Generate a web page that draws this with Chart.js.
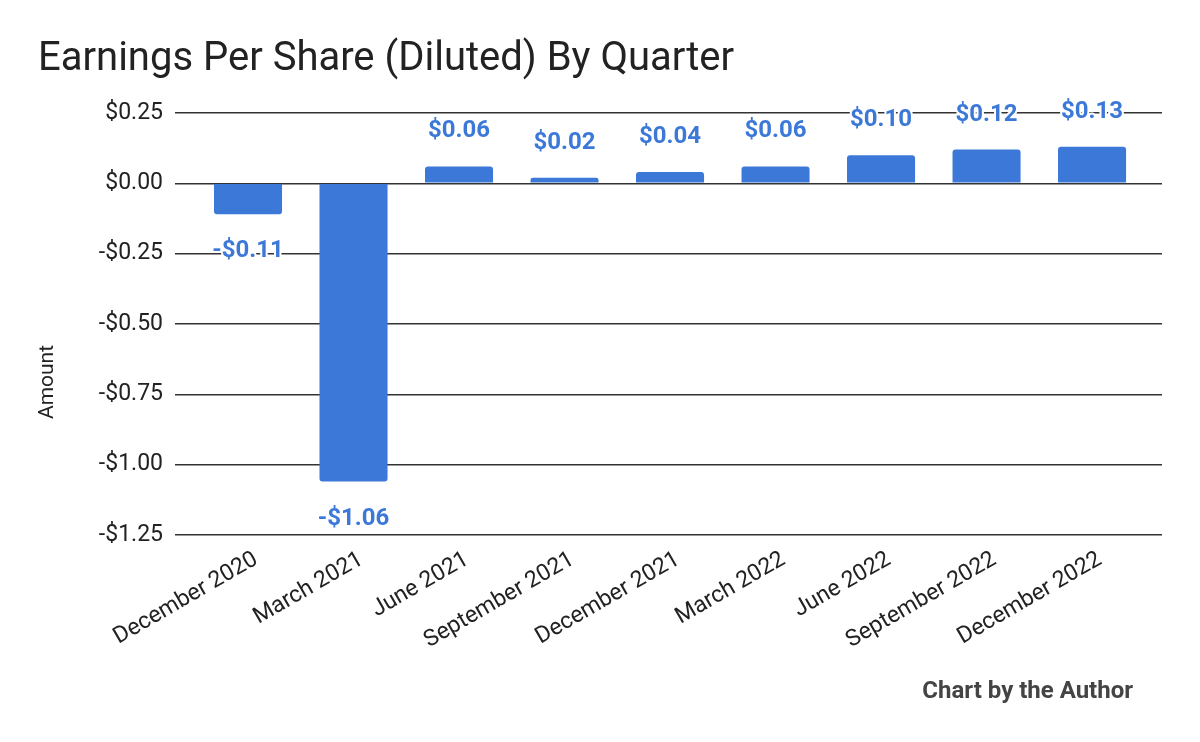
<!DOCTYPE html>
<html>
<head>
<meta charset="utf-8">
<script src="https://cdn.jsdelivr.net/npm/chart.js@4"></script>
<style>
html,body{margin:0;padding:0;background:#fff;}
#wrap{width:1200px;height:742px;position:relative;}
</style>
</head>
<body>
<div id="wrap"><canvas id="c" width="1200" height="742"></canvas></div>
<script>
const categories = ["December 2020","March 2021","June 2021","September 2021","December 2021","March 2022","June 2022","September 2022","December 2022"];
const eps = [-0.11,-1.06,0.06,0.02,0.04,0.06,0.10,0.12,0.13];
const yTicks = [0.25,0,-0.25,-0.5,-0.75,-1.0,-1.25];
const titleText = "Earnings Per Share (Diluted) By Quarter";
const yTitle = "Amount";
const footer = "Chart by the Author";

function money(v){ const s = "$" + Math.abs(v).toFixed(2); return v < 0 ? "-" + s : s; }

const BLUE = "#3c78d8";

const decor = {
  id:'decor',
  afterDraw(chart){
    const ctx = chart.ctx;
    ctx.save();
    ctx.fillStyle = "#222";
    ctx.font = "40px Roboto";
    ctx.textAlign = "left"; ctx.textBaseline = "alphabetic";
    ctx.fillText(titleText, 38, 70);
    ctx.font = "bold 24px Roboto";
    ctx.fillStyle = "#444";
    ctx.textAlign = "right"; ctx.textBaseline = "middle";
    ctx.fillText(footer, 1133, 692);
    ctx.translate(48, 382);
    ctx.rotate(-Math.PI/2);
    ctx.textAlign = "center";
    ctx.font = "21px Roboto";
    ctx.fillStyle = "#222";
    ctx.fillText(yTitle, 0, 0);
    ctx.restore();
  },
  afterDatasetsDraw(chart){
    const ctx = chart.ctx;
    const meta = chart.getDatasetMeta(0);
    ctx.save();
    ctx.font = "bold 24px Roboto";
    ctx.textAlign = "center"; ctx.textBaseline = "middle";
    ctx.lineJoin = "round";
    meta.data.forEach((bar,i)=>{
      const v = eps[i];
      const y = v >= 0 ? bar.y - 35 : bar.y + 37;
      const t = money(v);
      ctx.strokeStyle = "#fff"; ctx.lineWidth = 4;
      ctx.strokeText(t, bar.x, y);
      ctx.fillStyle = BLUE;
      ctx.fillText(t, bar.x, y);
    });
    ctx.restore();
  }
};

new Chart(document.getElementById('c'), {
  type:'bar',
  data:{ datasets:[{ data:eps.map((v,i)=>({x:i, y:v})), backgroundColor:BLUE, barPercentage:0.645, categoryPercentage:1, borderRadius:3 }]},
  options:{
    responsive:false, animation:false,
    layout:{ padding:{ top:113, right:38, left:0, bottom:0 } },
    plugins:{ legend:{display:false}, tooltip:{enabled:false}, title:{display:false} },
    scales:{
      x:{
        type:'linear', min:-0.692, max:8.663, offset:false,
        afterBuildTicks(s){ s.ticks = categories.map((c,i)=>({value:i})); },
        grid:{ display:false },
        border:{ display:false },
        ticks:{ font:{family:"Roboto", size:23}, color:"#222", maxRotation:30, minRotation:30, padding:3, autoSkip:false,
                labelOffset:8, callback:(v)=>categories[v] },
        afterFit(s){ s.height = 207; }
      },
      y:{
        min:-1.25, max:0.25,
        afterBuildTicks(s){ s.ticks = yTicks.map(v=>({value:v})); },
        grid:{ color:"#333", lineWidth:1.5, drawTicks:false },
        border:{ display:false },
        ticks:{ font:{family:"Roboto", size:23}, color:"#222", padding:12, callback:(v)=>money(v) },
        afterFit(s){ s.width = 175; }
      }
    }
  },
  plugins:[decor]
});
</script>
</body>
</html>
